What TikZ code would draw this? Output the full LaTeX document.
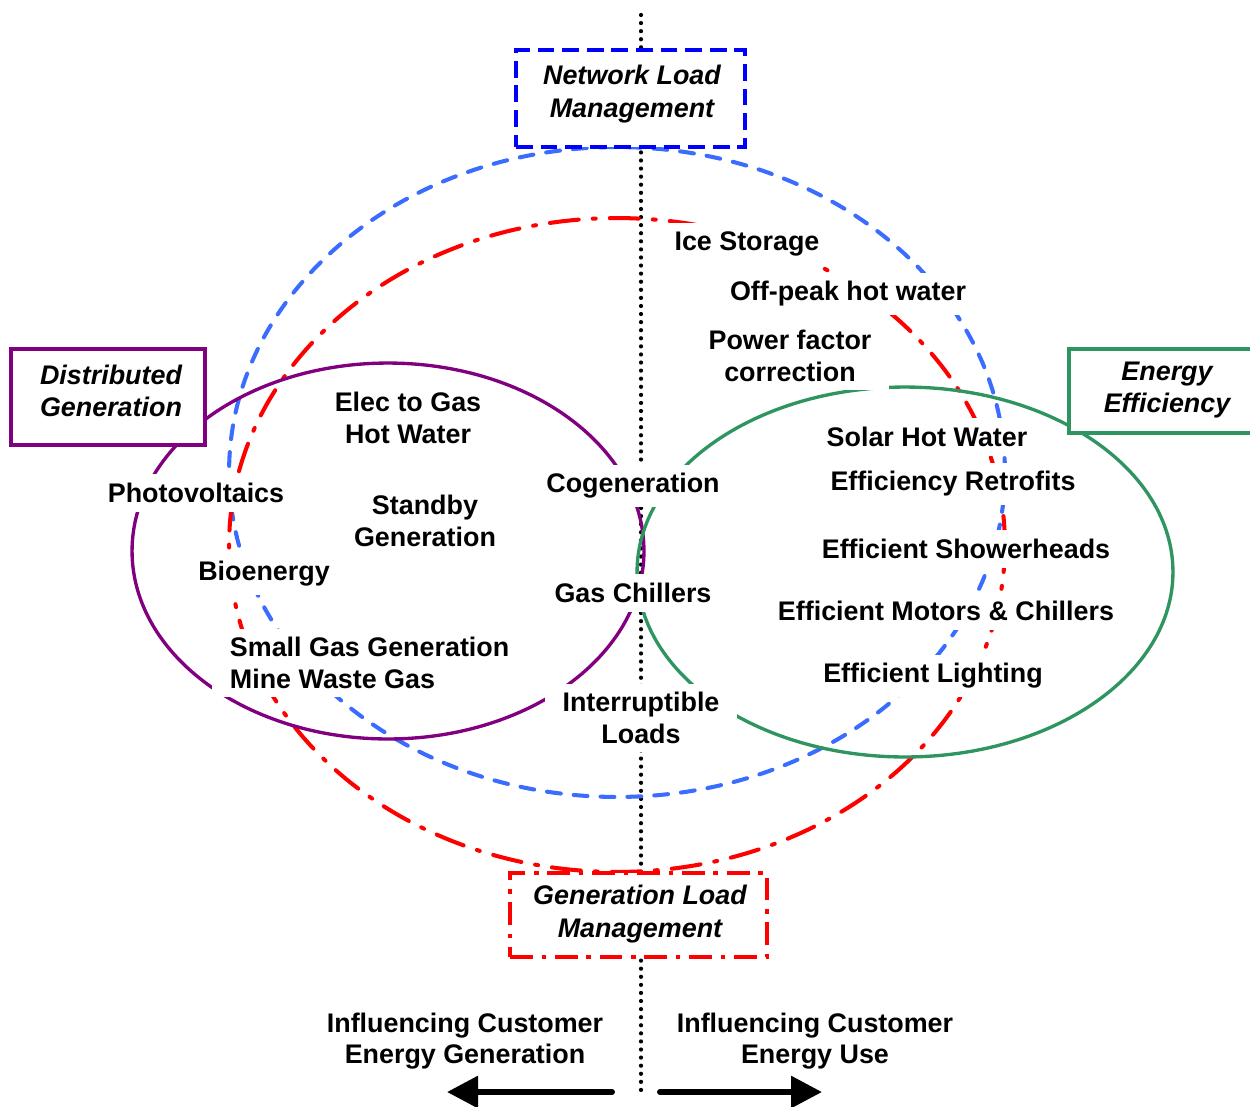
\documentclass[tikz,border=0pt]{standalone}
\usepackage{fontspec}
\setmainfont{Liberation Sans}
\usetikzlibrary{arrows.meta}
\definecolor{nlmblue}{RGB}{0,0,255}
\definecolor{ellblue}{RGB}{58,108,255}
\definecolor{glmred}{RGB}{255,0,0}
\definecolor{dgpurple}{RGB}{128,0,128}
\definecolor{eegreen}{RGB}{46,148,96}

\begin{document}
\begin{tikzpicture}[x=0.02cm,y=-0.02cm,
  lbl/.style={fill=white, inner xsep=10pt, inner ysep=5pt, align=center,
    font=\fontsize{15.3}{18}\selectfont\bfseries},
  catframe/.style={fill=white, line width=2.2pt, inner sep=0pt},
  cattext/.style={align=center, inner sep=0pt,
    font=\fontsize{15.3}{18.5}\selectfont\bfseries\itshape},
  divider/.style={black, line width=2.4pt, line cap=round, dash pattern=on 0pt off 4.6pt},
  nlmring/.style={ellblue, line width=2.3pt, line cap=round, dash pattern=on 7.9pt off 7.4pt},
  glmring/.style={glmred, line width=2.3pt, line cap=round,
    dash pattern=on 16.5pt off 8pt on 1.7pt off 8pt},
  dgring/.style={dgpurple, line width=1.9pt},
  eering/.style={eegreen, line width=1.9pt},
  bigarrow/.style={black, line width=3.4pt, line cap=round,
    -{Triangle[length=0.62cm, width=0.62cm]}}]

\useasboundingbox (0,0) rectangle (1250,1106);

% central divider between generation and use
\coordinate (axtop) at (641,15);
\coordinate (axbot) at (641,1094);
\draw[divider] (axtop) -- (axbot);

% the four groupings
\draw[nlmring] (617,472) ellipse [x radius=7.76cm, y radius=6.5cm];
\draw[glmring] (617,545) ellipse [x radius=7.76cm, y radius=6.54cm];
\draw[dgring] (388,551) ellipse [x radius=5.12cm, y radius=3.76cm];
\draw[eering] (905,572) ellipse [x radius=5.36cm, y radius=3.7cm];

% measures
\node[lbl] (ice) at (747,244) {Ice Storage};
\node[lbl] (offpeak) at (848,294) {Off-peak hot water};
\node[lbl] (pf) at (790,356) {Power factor\\correction};
\node[lbl] (solar) at (927,437) {Solar Hot Water};
\node[lbl] (retro) at (953,484) {Efficiency Retrofits};
\node[lbl] (shower) at (966,549) {Efficient Showerheads};
\node[lbl] (motors) at (946,611) {Efficient Motors \& Chillers};
\node[lbl] (lighting) at (933,676) {Efficient Lighting};
\node[lbl] (cogen) at (633,486) {Cogeneration};
\node[lbl] (chill) at (633,593) {Gas Chillers};
\node[lbl] (interr) at (641,718) {Interruptible\\Loads};
\node[lbl] (e2g) at (408,418) {Elec to Gas\\Hot Water};
\node[lbl] (standby) at (425,521) {Standby\\Generation};
\node[lbl] (pv) at (196,493) {Photovoltaics};
\node[lbl] (bio) at (264,574) {Bioenergy};
\node[lbl, align=left, anchor=west] (smallgas) at (212,663) {Small Gas Generation\\Mine Waste Gas};

% category boxes
\node[catframe, draw=nlmblue, dash pattern=on 9.5pt off 4.5pt,
  minimum width=4.58cm, minimum height=1.94cm] (nlm) at (630.5,98.5) {};
\node[cattext] (nlmtext) at (632,94) {Network Load\\Management};
\node[catframe, draw=dgpurple, minimum width=3.88cm, minimum height=1.92cm]
  (dg) at (108,397) {};
\node[cattext] (dgtext) at (111,391) {Distributed\\Generation};
\node[catframe, draw=eegreen, minimum width=3.92cm, minimum height=1.68cm]
  (ee) at (1167,391) {};
\node[cattext] (eetext) at (1167,390) {Energy\\Efficiency};
\node[catframe, draw=glmred, dash pattern=on 13pt off 5pt on 2.5pt off 5pt,
  minimum width=5.14cm, minimum height=1.68cm] (glm) at (638.5,915) {};
\node[cattext] (glmtext) at (640,914) {Generation Load\\Management};

% direction of influence
\node[lbl, fill=none] (gen) at (465,1041) {Influencing Customer\\Energy Generation};
\node[lbl, fill=none] (use) at (815,1041) {Influencing Customer\\Energy Use};
\coordinate (lstart) at (612,1092);
\coordinate (lend) at (447,1092);
\coordinate (rstart) at (660,1092);
\coordinate (rend) at (822,1092);
\draw[bigarrow] (lstart) -- (lend);
\draw[bigarrow] (rstart) -- (rend);
\end{tikzpicture}
\end{document}
